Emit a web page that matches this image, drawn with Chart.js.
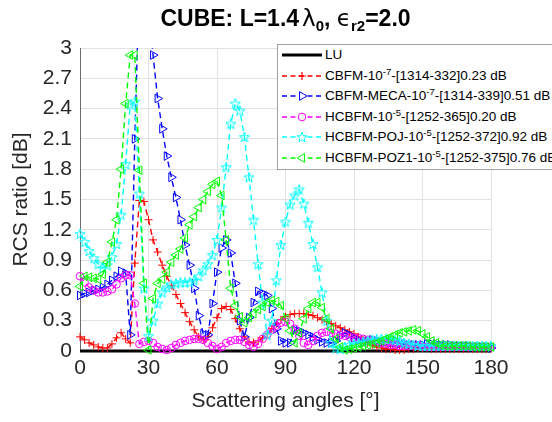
<!DOCTYPE html>
<html>
<head>
<meta charset="utf-8">
<script src="https://cdn.jsdelivr.net/npm/chart.js@4.4.1/dist/chart.umd.min.js"></script>
<style>
  body { margin: 0; background: #fff; }
  #wrap { position: relative; width: 552px; height: 422px; overflow: hidden; font-family: "Liberation Sans", Arial, sans-serif; }
  #chartCanvas { position: absolute; left: 0; top: 0; }
  #title { position: absolute; left: 80px; width: 411px; top: 5px; text-align: center; font-size: 23px; font-weight: bold; color: #000; white-space: nowrap; }
  #title .sym { font-weight: normal; font-family: "DejaVu Sans", sans-serif; }
  #title .lam { margin-left: 3px; }
  #title sub { font-size: 15px; vertical-align: -5px; line-height: 0; }
  #legend { position: absolute; left: 277px; top: 44px; width: 300px; height: 124px; border: 1px solid #a0a0a0; background: #fff; }
  .row { position: absolute; left: 0; width: 300px; height: 20px; line-height: 20px; font-size: 13.5px; color: #000; white-space: nowrap; }
  .row svg { position: absolute; left: 4px; top: 0; }
  .row span { position: absolute; left: 47px; }
  .row sup { font-size: 9.5px; vertical-align: 5px; line-height: 0; }
</style>
</head>
<body>
<div id="wrap">
  <canvas id="chartCanvas" width="552" height="422"></canvas>
  <div id="title">CUBE: L=1.4<span class="sym lam">λ</span><sub>0</sub>, <span class="sym">ϵ</span><sub>r2</sub>=2.0</div>
  <div id="legend"></div>
</div>
<script>
// scattering angles (deg)
const angles = [
  0, 2, 4, 6, 8, 10, 12, 14, 16, 18,
  20, 22, 24, 26, 28, 30, 32, 34, 36, 38,
  40, 42, 44, 46, 48, 50, 52, 54, 56, 58,
  60, 62, 64, 66, 68, 70, 72, 74, 76, 78,
  80, 82, 84, 86, 88, 90, 92, 94, 96, 98,
  100, 102, 104, 106, 108, 110, 112, 114, 116, 118,
  120, 122, 124, 126, 128, 130, 132, 134, 136, 138,
  140, 142, 144, 146, 148, 150, 152, 154, 156, 158,
  160, 162, 164, 166, 168, 170, 172, 174, 176, 178,
  180
];

// LU reference
const luAngles = [0, 180];
const luValues = [0, 0];

const cbfm = [
  .14, .11, .08, .06, .04, .03, .03, .07, .13, .18,
  .12, .08, .87, 1.49, 1.48, 1.30, 1.10, .98, .85, .74,
  .65, .56, .47, .38, .29, .21, .14, .11, .14, .23,
  .33, .42, .44, .41, .32, .22, .14, .09, .08, .10,
  .13, .17, .22, .27, .31, .34, .36, .37, .37, .37,
  .36, .35, .33, .31, .29, .27, .25, .23, .21, .19,
  .17, .14, .11, .08, .06, .04, .03, .02, .02, .01,
  .01, .01, .02, .02, .03, .03, .03, .02, .02, .02,
  .02, .02, .02, .02, .02, .02, .02, .02, .02, .02,
  .02
];

const cbfmMeca = [
  .55, .57, .58, .60, .61, .63, .66, .70, .74, .79,
  .77, .16, 2.10, 3.70, 4.10, 3.50, 2.93, 2.50, 2.20, 1.93,
  1.72, 1.52, 1.30, 1.05, .85, .62, .35, .17, .16, .47,
  .78, 1.02, 1.10, .97, .67, .30, .14, .33, .48, .59,
  .57, .55, .42, .22, .10, .08, .08, .21, .20, .18,
  .16, .14, .11, .09, .08, .08, .10, .15, .18, .16,
  .13, .11, .09, .10, .11, .10, .09, .09, .08, .08,
  .07, .07, .06, .06, .06, .06, .07, .07, .07, .06,
  .06, .06, .05, .05, .05, .05, .04, .04, .04, .04,
  .03
];

const hcbfm = [
  .74, .68, .63, .60, .58, .58, .59, .61, .66, .72,
  .75, .75, .47, .07, .09, .10, .08, .04, .02, .01,
  .03, .06, .08, .10, .11, .12, .12, .11, .08, .05,
  .02, .04, .08, .10, .11, .11, .09, .06, .04, .07,
  .12, .16, .21, .25, .28, .29, .27, .22, .15, .08,
  .06, .10, .15, .18, .19, .18, .17, .16, .15, .14,
  .13, .13, .12, .11, .10, .09, .08, .07, .06, .06,
  .05, .05, .05, .05, .05, .04, .04, .04, .04, .04,
  .04, .04, .04, .04, .04, .04, .04, .04, .04, .04,
  .04
];

const hcbfmPoj = [
  1.16, 1.08, .99, .92, .86, .82, .85, .93, 1.06, 1.35,
  1.85, 2.44, 2.47, 1.56, .62, .15, .30, .47, .58, .63,
  .66, .67, .68, .68, .68, .70, .74, .80, .86, .95,
  1.10, 1.42, 1.82, 2.25, 2.45, 2.38, 2.12, 1.72, 1.30, .86,
  .48, .16, .30, .70, 1.05, 1.28, 1.45, 1.54, 1.60, 1.46,
  1.27, 1.06, .83, .58, .30, .08, .03, .02, .04, .06,
  .07, .08, .09, .10, .11, .12, .12, .12, .12, .11,
  .10, .08, .07, .06, .05, .05, .05, .05, .05, .05,
  .05, .05, .05, .05, .05, .05, .05, .05, .05, .05,
  .05
];

const hcbfmPoz1 = [
  .64, .74, .73, .72, .71, .76, .88, 1.08, 1.30, 1.80,
  2.45, 2.93, 2.93, 1.79, .67, .01, .52, .67, .71, .78,
  .88, .95, 1.01, 1.12, 1.25, 1.33, 1.42, 1.50, 1.58, 1.65,
  1.68, 1.54, 1.10, .62, .45, .34, .28, .33, .37, .41,
  .44, .48, .50, .49, .45, .32, .20, .08, .18, .32,
  .42, .48, .48, .43, .32, .22, .12, .04, .01, .02,
  .03, .04, .05, .06, .07, .08, .10, .12, .14, .16,
  .18, .19, .20, .21, .20, .17, .14, .10, .08, .06,
  .05, .05, .05, .05, .05, .05, .04, .04, .04, .04,
  .04
];

const xTicks = [0, 30, 60, 90, 120, 150, 180];
const yTicks = [0, 0.3, 0.6, 0.9, 1.2, 1.5, 1.8, 2.1, 2.4, 2.7, 3];
const yTickLabels = ['0', '0.3', '0.6', '0.9', '1.2', '1.5', '1.8', '2.1', '2.4', '2.7', '3'];

// legend text: [name, superscript, rest]
const legendLabels = [
  ['LU', '', ''],
  ['CBFM-10', '-7', '-[1314-332]0.23 dB'],
  ['CBFM-MECA-10', '-7', '-[1314-339]0.51 dB'],
  ['HCBFM-10', '-5', '-[1252-365]0.20 dB'],
  ['HCBFM-POJ-10', '-5', '-[1252-372]0.92 dB'],
  ['HCBFM-POZ1-10', '-5', '-[1252-375]0.76 dB']
];

const FONT = '"Liberation Sans", Arial, sans-serif';
const AXIS = '#262626';

function starPath(cx, cy, R) {
  const pts = [];
  for (let k = 0; k < 10; k++) {
    const r = k % 2 ? R * 0.4 : R;
    const a = -Math.PI / 2 + k * Math.PI / 5;
    pts.push([cx + r * Math.cos(a), cy + r * Math.sin(a)]);
  }
  return pts;
}

// pentagram marker image for the POJ series
function starImage(color) {
  const c = document.createElement('canvas');
  c.width = 12; c.height = 12;
  const g = c.getContext('2d');
  g.strokeStyle = color;
  g.lineWidth = 1;
  g.beginPath();
  starPath(6, 6.5, 5.4).forEach((p, k) => k ? g.lineTo(p[0], p[1]) : g.moveTo(p[0], p[1]));
  g.closePath();
  g.stroke();
  return c;
}

const pts = (xs, ys) => xs.map((a, i) => ({ x: a, y: ys[i] }));

const styles = [
  { data: pts(luAngles, luValues), color: '#000000', marker: 'none' },
  { data: pts(angles, cbfm), color: '#ff0000', marker: 'cross' },
  { data: pts(angles, cbfmMeca), color: '#0000ff', marker: 'right' },
  { data: pts(angles, hcbfm), color: '#ff00ff', marker: 'circle' },
  { data: pts(angles, hcbfmPoj), color: '#00ffff', marker: 'star' },
  { data: pts(angles, hcbfmPoz1), color: '#00ff00', marker: 'left' }
];

const datasets = styles.map((s, i) => {
  if (s.marker === 'none') {
    return {
      label: legendLabels[i][0], data: s.data, borderColor: s.color, borderWidth: 3,
      pointRadius: 0, order: 10, clip: { left: 0, top: 0, right: 0, bottom: 2 }
    };
  }
  const ds = {
    label: legendLabels[i].join(''), data: s.data,
    borderColor: s.color, backgroundColor: 'rgba(0,0,0,0)',
    borderWidth: 1.4, borderDash: [6, 4], tension: 0,
    pointBorderColor: s.color, pointBackgroundColor: 'rgba(0,0,0,0)',
    pointBorderWidth: 1, pointRadius: 4.5,
    order: 10 - i,
    clip: { left: 8, top: 0, right: 8, bottom: 8 }
  };
  if (s.marker === 'cross') { ds.pointStyle = 'cross'; ds.pointRadius = 4; }
  if (s.marker === 'right') { ds.pointStyle = 'triangle'; ds.pointRotation = 90; ds.pointRadius = 5; }
  if (s.marker === 'left') { ds.pointStyle = 'triangle'; ds.pointRotation = 270; ds.pointRadius = 5; }
  if (s.marker === 'circle') { ds.pointStyle = 'circle'; ds.pointRadius = 3.8; }
  if (s.marker === 'star') { ds.pointStyle = starImage(s.color); }
  return ds;
});

new Chart(document.getElementById('chartCanvas').getContext('2d'), {
  type: 'line',
  data: { datasets: datasets },
  options: {
    responsive: false,
    animation: false,
    devicePixelRatio: 1,
    layout: { padding: { top: 48, right: 61, left: 0, bottom: 0 } },
    plugins: {
      legend: { display: false },
      title: { display: false },
      tooltip: { enabled: false }
    },
    scales: {
      x: {
        type: 'linear', min: 0, max: 180,
        afterBuildTicks: (s) => { s.ticks = xTicks.map(v => ({ value: v })); },
        afterFit: (s) => { s.height = 71; },
        ticks: { font: { family: FONT, size: 21 }, color: AXIS, padding: 5, maxRotation: 0 },
        grid: { color: '#e2e2e2', drawTicks: false },
        border: { color: '#6e6e6e' },
        title: {
          display: true, text: 'Scattering angles [°]', color: AXIS,
          font: { family: FONT, size: 21 }, padding: { top: 0, bottom: 8 }
        }
      },
      y: {
        type: 'linear', min: 0, max: 3,
        afterBuildTicks: (s) => { s.ticks = yTicks.map(v => ({ value: v })); },
        afterFit: (s) => { s.width = 80; },
        ticks: {
          font: { family: FONT, size: 21 }, color: AXIS, padding: 8,
          callback: (v, i) => yTickLabels[i]
        },
        grid: { color: '#e2e2e2', drawTicks: false },
        border: { color: '#6e6e6e' },
        title: {
          display: true, text: 'RCS ratio [dB]', color: AXIS,
          font: { family: FONT, size: 21 }, padding: { top: 9, bottom: 0 }
        }
      }
    }
  }
});

// legend drawn as html rows (sample line + marker + text)
function markerSvg(kind, color) {
  const cx = 20, cy = 10;
  if (kind === 'cross') return `<path d="M${cx - 4} ${cy}H${cx + 4}M${cx} ${cy - 4}V${cy + 4}" stroke="${color}" stroke-width="1.2" fill="none"/>`;
  if (kind === 'right') return `<polygon points="${cx - 2.5},${cy - 4.3} ${cx + 5},${cy} ${cx - 2.5},${cy + 4.3}" stroke="${color}" fill="#fff"/>`;
  if (kind === 'left') return `<polygon points="${cx + 2.5},${cy - 4.3} ${cx - 5},${cy} ${cx + 2.5},${cy + 4.3}" stroke="${color}" fill="#fff"/>`;
  if (kind === 'circle') return `<circle cx="${cx}" cy="${cy}" r="3.8" stroke="${color}" fill="#fff"/>`;
  if (kind === 'star') return `<polygon points="${starPath(cx, cy + 0.5, 5.4).map(p => p.join(',')).join(' ')}" stroke="${color}" fill="#fff"/>`;
  return '';
}

const legend = document.getElementById('legend');
legendLabels.forEach((lab, i) => {
  const s = styles[i];
  const line = s.marker === 'none'
    ? `<line x1="0" y1="10" x2="40" y2="10" stroke="#000" stroke-width="3"/>`
    : `<line x1="0" y1="10" x2="40" y2="10" stroke="${s.color}" stroke-width="1.3" stroke-dasharray="5 3.5"/>`;
  const row = document.createElement('div');
  row.className = 'row';
  row.style.top = (20.6 * i) + 'px';
  row.innerHTML = `<svg width="42" height="20">${line}${markerSvg(s.marker, s.color)}</svg>` +
    `<span>${lab[0]}${lab[1] ? '<sup>' + lab[1] + '</sup>' : ''}${lab[2]}</span>`;
  legend.appendChild(row);
});
</script>
</body>
</html>
